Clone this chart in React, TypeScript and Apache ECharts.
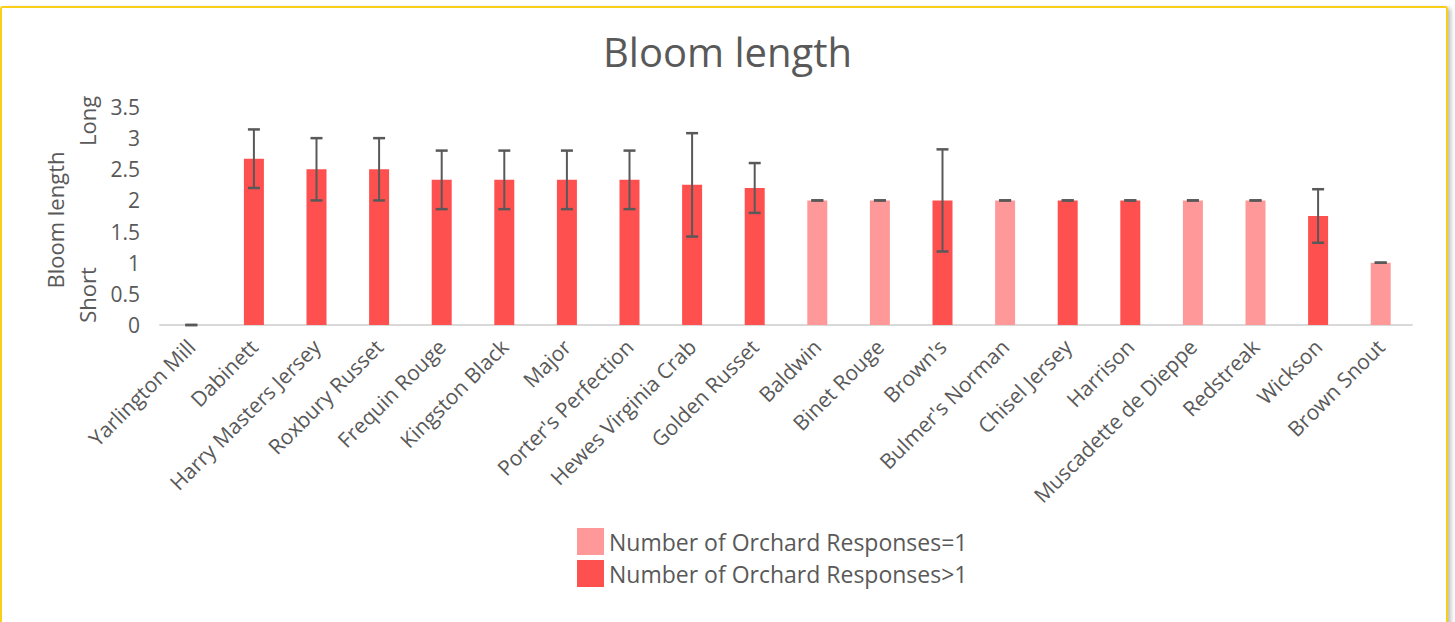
import React, { useEffect, useRef } from "react";
import * as echarts from "echarts";

const categories = [
  "Yarlington Mill", "Dabinett", "Harry Masters Jersey", "Roxbury Russet", "Frequin Rouge",
  "Kingston Black", "Major", "Porter's Perfection", "Hewes Virginia Crab", "Golden Russet",
  "Baldwin", "Binet Rouge", "Brown's", "Bulmer's Norman", "Chisel Jersey",
  "Harrison", "Muscadette de Dieppe", "Redstreak", "Wickson", "Brown Snout",
];
const bloomValues = [0, 2.67, 2.5, 2.5, 2.33, 2.33, 2.33, 2.33, 2.25, 2.2, 2, 2, 2, 2, 2, 2, 2, 2, 1.75, 1];
const errorValues = [0, 0.47, 0.5, 0.5, 0.47, 0.47, 0.47, 0.47, 0.83, 0.4, 0, 0, 0.82, 0, 0, 0, 0, 0, 0.43, 0];
// true = more than one orchard response
const multiResponse = [true, true, true, true, true, true, true, true, true, true,
  false, false, true, false, true, true, false, false, true, false];
const yTicks = ["0", "0.5", "1", "1.5", "2", "2.5", "3", "3.5"];

const seriesOneName = "Number of Orchard Responses=1";
const seriesManyName = "Number of Orchard Responses>1";
const colorOne = "#FF9999";
const colorMany = "#FF5050";
const textColor = "#595959";
const font = "'Open Sans', 'Noto Sans', sans-serif";

export default function App() {
  const ref = useRef<HTMLDivElement>(null);
  useEffect(() => {
    document.body.style.margin = "0";
    if (!ref.current) return;
    const chart = echarts.init(ref.current, null, { renderer: "svg" });
    const oneData = bloomValues.map((v, i) => (multiResponse[i] ? "-" : v));
    const manyData = bloomValues.map((v, i) => (multiResponse[i] ? v : "-"));
    const errData = bloomValues.map((v, i) => [i, v - errorValues[i], v + errorValues[i]]);
    chart.setOption({
      animation: false,
      title: {
        text: "Bloom length",
        left: "center",
        top: 26,
        textStyle: { fontFamily: font, fontSize: 40, fontWeight: "normal", color: textColor },
      },
      legend: {
        orient: "vertical",
        left: 572,
        top: 523,
        itemWidth: 27,
        itemHeight: 27,
        itemGap: 5,
        icon: "rect",
        textStyle: { fontFamily: font, fontSize: 23, color: textColor },
        data: [seriesOneName, seriesManyName],
      },
      grid: { left: 160, right: 43, top: 107, bottom: 297, containLabel: false },
      xAxis: {
        type: "category",
        data: categories,
        axisLine: { lineStyle: { color: "#D9D9D9", width: 2 } },
        axisTick: { show: false },
        axisLabel: {
          rotate: 45,
          interval: 0,
          margin: 18,
          fontFamily: font,
          fontSize: 21,
          color: textColor,
        },
      },
      yAxis: {
        type: "value",
        min: 0,
        max: 3.5,
        interval: 0.5,
        splitLine: { show: false },
        axisLine: { show: false },
        axisTick: { show: false },
        axisLabel: {
          margin: 20,
          fontFamily: font,
          fontSize: 21,
          color: textColor,
          formatter: (v: number) => yTicks[Math.round(v / 0.5)] ?? String(v),
        },
      },
      graphic: [
        {
          type: "text",
          x: 55,
          y: 220,
          rotation: Math.PI / 2,
          style: {
            text: "Bloom length",
            fontFamily: font,
            fontSize: 22,
            fill: textColor,
            align: "center",
            verticalAlign: "middle",
          },
        },
        {
          type: "text",
          x: 87,
          y: 121,
          rotation: Math.PI / 2,
          style: { text: "Long", fontFamily: font, fontSize: 22, fill: textColor, align: "center", verticalAlign: "middle" },
        },
        {
          type: "text",
          x: 87,
          y: 295,
          rotation: Math.PI / 2,
          style: { text: "Short", fontFamily: font, fontSize: 22, fill: textColor, align: "center", verticalAlign: "middle" },
        },
      ],
      series: [
        {
          name: seriesOneName,
          type: "bar",
          stack: "bloom",
          barWidth: 20,
          itemStyle: { color: colorOne },
          data: oneData,
        },
        {
          name: seriesManyName,
          type: "bar",
          stack: "bloom",
          barWidth: 20,
          itemStyle: { color: colorMany },
          data: manyData,
        },
        {
          name: "error",
          type: "custom",
          data: errData,
          z: 10,
          renderItem: (params: any, api: any) => {
            const x = api.value(0);
            const lo = api.coord([x, api.value(1)]);
            const hi = api.coord([x, api.value(2)]);
            const half = 6;
            const style = { stroke: "#595959", lineWidth: 2 };
            return {
              type: "group",
              children: [
                { type: "line", shape: { x1: lo[0], y1: lo[1], x2: hi[0], y2: hi[1] }, style },
                { type: "line", shape: { x1: lo[0] - half, y1: lo[1], x2: lo[0] + half, y2: lo[1] }, style: { ...style, lineWidth: 2.5 } },
                { type: "line", shape: { x1: hi[0] - half, y1: hi[1], x2: hi[0] + half, y2: hi[1] }, style: { ...style, lineWidth: 2.5 } },
              ],
            };
          },
        },
      ],
    });
    return () => chart.dispose();
  }, []);
  return (
    <div style={{ position: "relative", width: 1455, height: 622, overflow: "hidden", background: "#fff" }}>
      <div
        style={{
          position: "absolute",
          left: 0,
          top: 6,
          width: 1448,
          height: 630,
          border: "2px solid #F9CF1A",
          borderRadius: 3,
          boxShadow: "3px 2px 4px rgba(0,0,0,0.25)",
          boxSizing: "border-box",
        }}
      />
      <div ref={ref} style={{ position: "absolute", left: 0, top: 0, width: 1455, height: 622 }} />
    </div>
  );
}
